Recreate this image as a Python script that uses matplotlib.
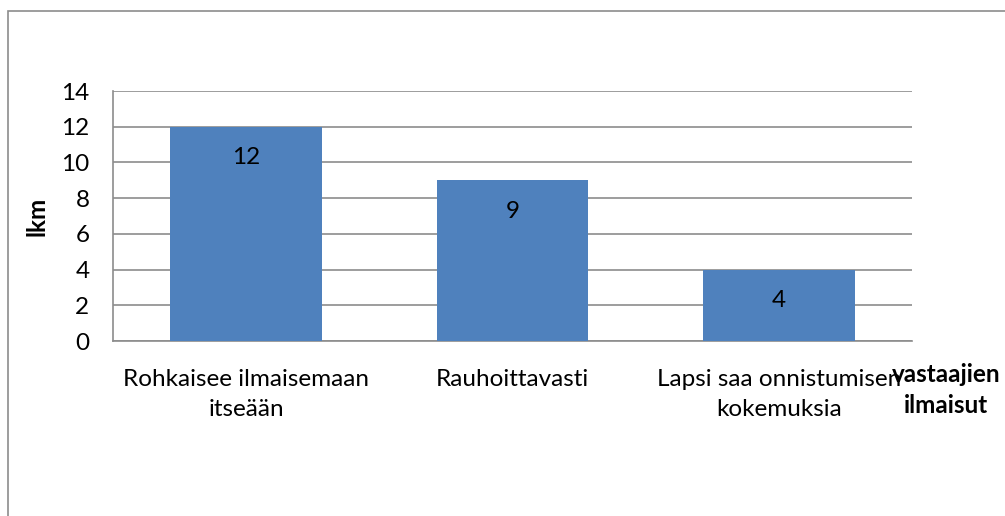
import matplotlib
matplotlib.use("Agg")
import matplotlib.pyplot as plt
from matplotlib.patches import Rectangle

categories = ["Rohkaisee ilmaisemaan\nitseään", "Rauhoittavasti", "Lapsi saa onnistumisen\nkokemuksia"]
values = [12, 9, 4]
yticks = [0, 2, 4, 6, 8, 10, 12, 14]

W, H = 1005, 516
fig = plt.figure(figsize=(W / 100, H / 100), dpi=100)
plt.rcParams['font.family'] = ['Lato', 'DejaVu Sans']

# outer chart border (cut off at right/bottom)
fig.patches.append(Rectangle((8 / W, -0.1), 1.2, (H - 11) / H + 0.1, transform=fig.transFigure,
                             fill=False, edgecolor='#8c8c8c', linewidth=1.2))

FS = 17.5
ax = fig.add_axes([113 / W, 1 - 341 / H, (912 - 113) / W, (341 - 91) / H])
x = range(len(categories))
bars = ax.bar(x, values, width=0.57, color='#4f81bd', zorder=3)
ax.set_xlim(-0.5, 2.5)
ax.set_ylim(0, 14)
ax.set_yticks(yticks)
ax.set_yticklabels([str(t) for t in yticks], fontsize=FS)
ax.set_xticks(list(x))
ax.set_xticklabels(categories, fontsize=FS, linespacing=1.55)
ax.tick_params(axis='y', length=0, pad=17)
ax.tick_params(axis='x', length=0, pad=20)
ax.grid(axis='y', color='#8c8c8c', linewidth=1.2, zorder=0)
for s in ['top', 'right']:
    ax.spines[s].set_visible(False)
ax.spines['left'].set_color('#8c8c8c')
ax.spines['bottom'].set_color('#8c8c8c')
ax.spines['left'].set_linewidth(1.2)
ax.spines['bottom'].set_linewidth(1.2)

for b, v in zip(bars, values):
    ax.annotate(str(v), (b.get_x() + b.get_width() / 2, v), xytext=(0, -31),
                textcoords='offset pixels',
                ha='center', va='center', fontsize=FS, zorder=4)

ax.set_ylabel('lkm', fontsize=FS, fontweight='bold', labelpad=9)
fig.text(946 / W, 1 - 390 / H, 'vastaajien\nilmaisut', ha='center', va='center',
         fontsize=FS, fontweight='bold', linespacing=1.4)

fig.savefig('out.png', dpi=100)
